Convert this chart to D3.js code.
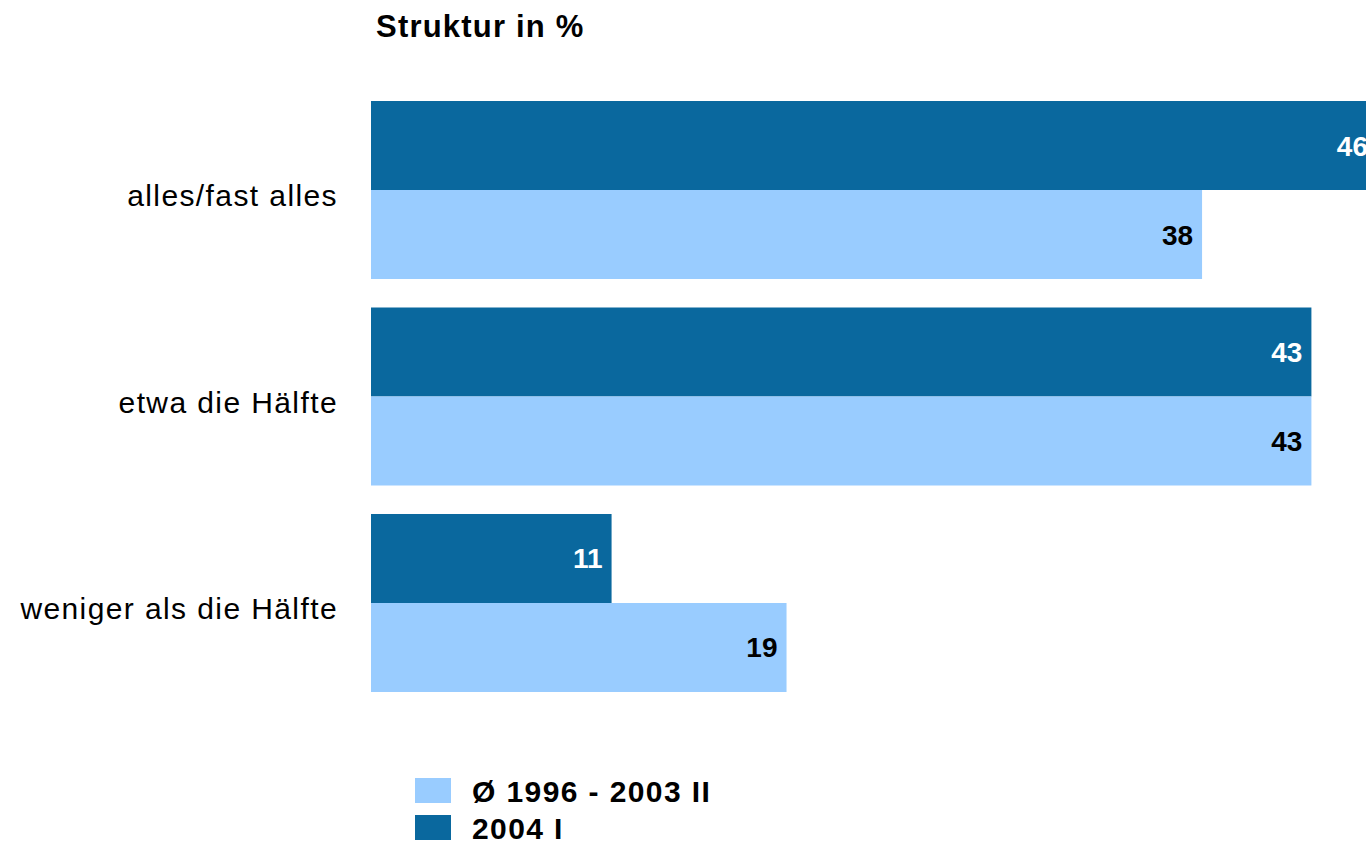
<!DOCTYPE html>
<html lang="de">
<head>
    <meta charset="UTF-8">
    <title>Struktur in %</title>
    <script src="https://d3js.org/d3.v7.min.js"></script>
    <style>
        body { margin: 0; background: #fff; }
        svg { display: block; font-family: "Liberation Sans", Arial, sans-serif; }
    </style>
</head>
<body>
<svg id="chart" width="1366" height="841"></svg>
<script>
    // data
    const categories = ["alles/fast alles", "etwa die Hälfte", "weniger als die Hälfte"];
    const seriesNames = ["2004 I", "Ø 1996 - 2003 II"];
    const values2004 = [46, 43, 11];
    const valuesAvg = [38, 43, 19];
    const legendOrder = ["Ø 1996 - 2003 II", "2004 I"];

    const colors = { "2004 I": "#0a689e", "Ø 1996 - 2003 II": "#99ccff" };
    const labelColors = { "2004 I": "#fff", "Ø 1996 - 2003 II": "#000" };

    const svg = d3.select("#chart");

    const x = d3.scaleLinear().domain([0, 100]).range([371, 371 + 2187]);
    const y = d3.scaleBand().domain(categories).range([101, 692]).paddingInner(0.138).paddingOuter(0);
    const ySub = d3.scaleBand().domain(seriesNames).range([0, y.bandwidth()]);

    const rows = [];
    categories.forEach((c, i) => {
        rows.push({ cat: c, series: "2004 I", value: values2004[i] });
        rows.push({ cat: c, series: "Ø 1996 - 2003 II", value: valuesAvg[i] });
    });

    // title
    svg.append("text")
        .attr("x", 376).attr("y", 37)
        .attr("font-size", 31).attr("font-weight", "bold")
        .attr("letter-spacing", "1.2px")
        .text("Struktur in %");

    // bars
    svg.selectAll("rect.bar")
        .data(rows)
        .enter().append("rect")
        .attr("class", "bar")
        .attr("x", x(0))
        .attr("y", d => y(d.cat) + ySub(d.series))
        .attr("width", d => x(d.value) - x(0))
        .attr("height", ySub.bandwidth())
        .attr("fill", d => colors[d.series]);

    // value labels
    svg.selectAll("text.val")
        .data(rows)
        .enter().append("text")
        .attr("class", "val")
        .attr("x", d => x(d.value) - 9)
        .attr("y", d => y(d.cat) + ySub(d.series) + ySub.bandwidth() / 2 + 10)
        .attr("text-anchor", "end")
        .attr("font-size", 28).attr("font-weight", "bold")
        .attr("fill", d => labelColors[d.series])
        .text(d => d.value);

    // category labels
    svg.selectAll("text.cat")
        .data(categories)
        .enter().append("text")
        .attr("class", "cat")
        .attr("x", 338)
        .attr("y", d => y(d) + y.bandwidth() / 2 + 16)
        .attr("text-anchor", "end")
        .attr("font-size", 30)
        .attr("letter-spacing", "1.4px")
        .text(d => d);

    // legend
    const legend = svg.selectAll("g.legend")
        .data(legendOrder)
        .enter().append("g")
        .attr("class", "legend")
        .attr("transform", (d, i) => `translate(415,${778 + i * 37})`);

    legend.append("rect")
        .attr("width", 36).attr("height", 25)
        .attr("fill", d => colors[d]);

    legend.append("text")
        .attr("x", 57).attr("y", 24)
        .attr("font-size", 30).attr("font-weight", "bold")
        .attr("letter-spacing", "1.4px")
        .text(d => d);
</script>
</body>
</html>
